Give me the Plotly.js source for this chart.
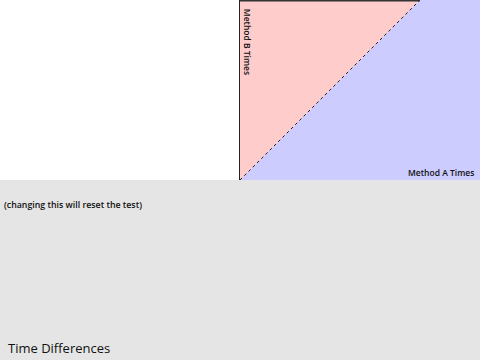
<!DOCTYPE html>
<html>
<head>
<meta charset="utf-8">
<script src="https://cdn.plot.ly/plotly-3.0.1.min.js"></script>
<style>html,body{margin:0;padding:0;background:#fff}#chart{width:480px;height:360px}</style>
</head>
<body>
<div id="chart"></div>
<script>
// Region of "Method B slower" (above the diagonal) and "Method A slower" (below)
const pinkX = [0, 0, 1];
const pinkY = [0, 1, 1];
const blueX = [0, 1, 1.3333, 1.3333];
const blueY = [0, 1, 1, 0];
const diagX = [0, 1];
const diagY = [0, 1];
const xLabel = "Method A Times";
const yLabel = "Method B Times";
const noteText = "(changing this will reset the test)";
const sectionTitle = "Time Differences";

const font = "Open Sans, Noto Sans, sans-serif";

const traces = [
  {x: pinkX, y: pinkY, type: 'scatter', mode: 'none', fill: 'toself', fillcolor: '#ffcccc', hoverinfo: 'skip'},
  {x: blueX, y: blueY, type: 'scatter', mode: 'none', fill: 'toself', fillcolor: '#ccccff', hoverinfo: 'skip'},
  {x: diagX, y: diagY, type: 'scatter', mode: 'lines', line: {color: '#222', width: 1, dash: 'dot'}, hoverinfo: 'skip'}
];

const layout = {
  width: 480, height: 360,
  margin: {l: 240, r: 0, t: 0, b: 180, pad: 0},
  paper_bgcolor: '#ffffff', plot_bgcolor: '#ffffff',
  showlegend: false,
  font: {family: font, color: '#111'},
  xaxis: {range: [0, 1.3333], showgrid: false, zeroline: false, showticklabels: false, ticks: '', showline: false, fixedrange: true},
  yaxis: {range: [0, 1], showgrid: false, zeroline: false, showticklabels: false, ticks: '', showline: true, linecolor: '#222', linewidth: 1, fixedrange: true},
  shapes: [
    {type: 'rect', xref: 'paper', yref: 'paper', x0: -1.1, x1: 1.1, y0: -1.1, y1: 0, fillcolor: '#e5e5e5', line: {width: 0}, layer: 'above'},
    {type: 'line', xref: 'x', yref: 'paper', x0: diagX[0], x1: diagX[1], y0: 0.997, y1: 0.997, line: {color: '#333', width: 2}, layer: 'above'}
  ],
  annotations: [
    {text: yLabel, xref: 'x', yref: 'paper', x: 0, y: 0.965, xanchor: 'left', yanchor: 'top', textangle: 90, showarrow: false, font: {size: 8.5, color: '#111', family: font, weight: 600}},
    {text: xLabel, xref: 'paper', yref: 'paper', x: 0.985, y: 0.0, xanchor: 'right', yanchor: 'bottom', showarrow: false, font: {size: 8.5, color: '#111', family: font, weight: 600}},
    {text: noteText, xref: 'paper', yref: 'paper', x: -0.99, y: -0.14, xanchor: 'left', yanchor: 'middle', showarrow: false, font: {size: 8.8, color: '#111', family: font, weight: 600}},
    {text: sectionTitle, xref: 'paper', yref: 'paper', x: -0.975, y: -0.935, xanchor: 'left', yanchor: 'middle', showarrow: false, font: {size: 13, color: '#111', family: font}}
  ]
};

Plotly.newPlot('chart', traces, layout, {displayModeBar: false, staticPlot: true});
</script>
</body>
</html>
